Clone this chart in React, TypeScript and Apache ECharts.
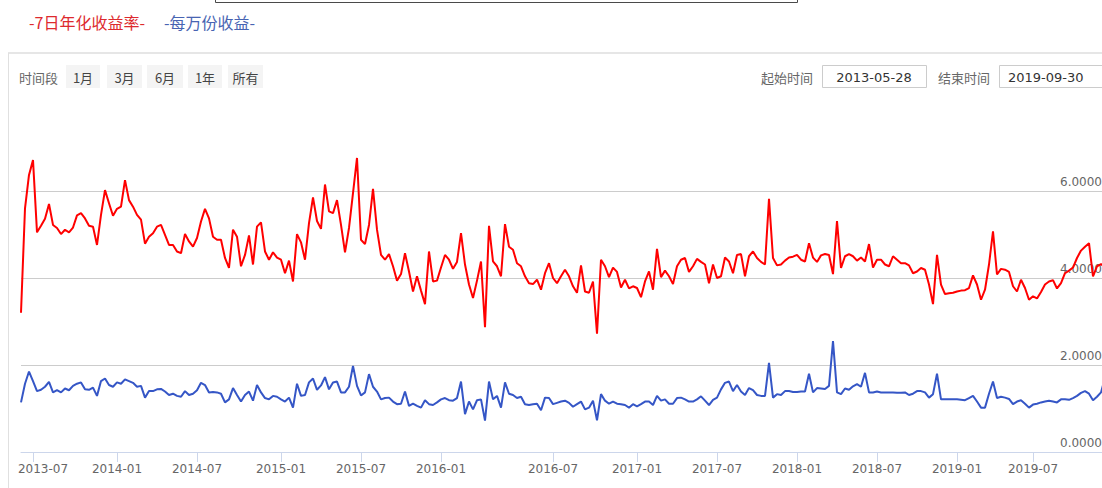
import React, { useEffect, useRef } from "react";
import * as echarts from "echarts";

const SERIES_NAMES = ["7日年化收益率", "每万份收益"];

const YIELD_7D = [
  3.2, 5.6, 6.37, 6.71, 5.05, 5.2, 5.36, 5.7, 5.22, 5.15,
  5.01, 5.11, 5.05, 5.16, 5.44, 5.49, 5.37, 5.2, 5.18, 4.76,
  5.45, 6.02, 5.72, 5.43, 5.59, 5.64, 6.25, 5.79, 5.64, 5.45,
  5.34, 4.79, 4.95, 5.03, 5.18, 5.22, 4.99, 4.76, 4.76, 4.61,
  4.57, 5.01, 4.84, 4.72, 4.92, 5.3, 5.59, 5.37, 4.95, 4.88,
  4.88, 4.46, 4.23, 5.11, 4.95, 4.27, 4.53, 4.98, 4.31, 5.18,
  5.28, 4.61, 4.42, 4.59, 4.47, 4.42, 4.11, 4.4, 3.92, 5.01,
  4.82, 4.42, 5.26, 5.85, 5.31, 5.13, 6.15, 5.53, 5.49, 5.79,
  5.22, 4.59, 5.15, 5.95, 6.76, 4.88, 4.78, 5.22, 6.05, 5.11,
  4.53, 4.42, 4.55, 4.27, 3.94, 4.09, 4.57, 4.15, 3.69, 4.04,
  3.71, 3.4, 4.61, 3.92, 3.94, 4.24, 4.53, 4.42, 4.21, 4.37,
  5.03, 4.31, 3.85, 3.54, 3.94, 4.38, 2.87, 5.2, 4.38, 4.27,
  4.04, 5.24, 4.72, 4.65, 4.34, 4.27, 4.04, 3.88, 3.86, 3.96,
  3.73, 4.11, 4.34, 4.0, 3.88, 4.04, 4.19, 4.04, 3.81, 3.66,
  4.29, 3.69, 3.66, 3.92, 2.72, 4.42, 4.27, 4.02, 4.24, 4.14,
  3.78, 3.96, 3.76, 3.81, 3.77, 3.56, 3.92, 4.15, 3.73, 4.67,
  4.02, 4.17, 4.04, 3.86, 4.27, 4.42, 4.46, 4.14, 4.27, 4.44,
  4.37, 4.31, 3.88, 4.31, 4.0, 4.04, 4.47, 4.38, 4.11, 4.53,
  4.55, 4.04, 4.5, 4.61, 4.46, 4.37, 4.31, 5.82, 4.46, 4.29,
  4.31, 4.4, 4.47, 4.49, 4.53, 4.42, 4.38, 4.8, 4.47, 4.37,
  4.52, 4.55, 4.53, 4.09, 5.31, 4.23, 4.5, 4.55, 4.5, 4.4,
  4.47, 4.38, 4.78, 4.24, 4.42, 4.42, 4.31, 4.27, 4.5, 4.42,
  4.34, 4.34, 4.29, 4.11, 4.15, 4.23, 4.19, 3.85, 3.4, 4.53,
  3.85, 3.63, 3.65, 3.66, 3.69, 3.71, 3.72, 3.77, 4.06, 3.85,
  3.5, 3.73, 4.31, 5.07, 4.08, 4.21, 4.19, 4.14, 3.81, 3.69,
  3.96, 3.77, 3.5, 3.58, 3.53, 3.68, 3.85, 3.92, 3.95, 3.76,
  3.88, 4.11, 4.17, 4.24, 4.46, 4.63, 4.72, 4.8, 4.04, 4.27,
  4.32, 4.24,
];

const PER_10K = [
  1.14, 1.57, 1.85, 1.63, 1.4, 1.43, 1.5, 1.61, 1.37, 1.42,
  1.37, 1.46, 1.42, 1.52, 1.57, 1.6, 1.44, 1.43, 1.48, 1.29,
  1.63, 1.69, 1.54, 1.5, 1.6, 1.57, 1.67, 1.63, 1.59, 1.5,
  1.52, 1.25, 1.4, 1.4, 1.44, 1.45, 1.39, 1.31, 1.34, 1.29,
  1.27, 1.4, 1.31, 1.34, 1.42, 1.59, 1.54, 1.37, 1.38, 1.37,
  1.34, 1.14, 1.21, 1.47, 1.31, 1.16, 1.31, 1.39, 1.18, 1.54,
  1.37, 1.24, 1.21, 1.29, 1.27, 1.21, 1.16, 1.25, 1.02, 1.57,
  1.29, 1.31, 1.6, 1.69, 1.43, 1.53, 1.72, 1.44, 1.6, 1.62,
  1.37, 1.37, 1.5, 1.98, 1.52, 1.3, 1.37, 1.79, 1.5, 1.39,
  1.21, 1.24, 1.25, 1.16, 1.1, 1.11, 1.39, 1.06, 1.11, 1.06,
  1.02, 1.19, 1.1, 1.08, 1.14, 1.21, 1.24, 1.19, 1.18, 1.24,
  1.62, 0.87, 1.16, 0.98, 1.19, 1.21, 0.72, 1.62, 1.21, 1.29,
  1.02, 1.6, 1.34, 1.31, 1.24, 1.27, 1.1, 1.08, 1.1, 1.11,
  0.96, 1.25, 1.24, 1.1, 1.13, 1.16, 1.18, 1.13, 1.04, 1.1,
  1.16, 0.98, 1.02, 1.18, 0.73, 1.33, 1.18, 1.11, 1.16, 1.11,
  1.1, 1.08, 1.02, 1.1, 1.05, 1.1, 1.16, 1.16, 1.08, 1.29,
  1.18, 1.21, 1.11, 1.11, 1.24, 1.25, 1.21, 1.16, 1.16, 1.21,
  1.28, 1.18, 1.08, 1.2, 1.25, 1.44, 1.59, 1.62, 1.4, 1.54,
  1.39, 1.31, 1.47, 1.42, 1.31, 1.29, 1.29, 2.05, 1.25, 1.33,
  1.31, 1.4, 1.4, 1.38, 1.38, 1.39, 1.39, 1.8, 1.37, 1.47,
  1.46, 1.45, 1.52, 2.55, 1.37, 1.33, 1.46, 1.43, 1.51, 1.56,
  1.5, 1.82, 1.37, 1.37, 1.39, 1.37, 1.37, 1.37, 1.37, 1.36,
  1.36, 1.37, 1.31, 1.34, 1.4, 1.4, 1.37, 1.25, 1.33, 1.8,
  1.21, 1.21, 1.21, 1.21, 1.21, 1.2, 1.19, 1.24, 1.29, 1.16,
  1.02, 1.02, 1.34, 1.62, 1.24, 1.27, 1.25, 1.22, 1.1, 1.16,
  1.19, 1.11, 1.02, 1.09, 1.11, 1.14, 1.16, 1.18, 1.16, 1.14,
  1.21, 1.21, 1.2, 1.24, 1.29, 1.36, 1.4, 1.34, 1.19, 1.27,
  1.37, 1.71,
];

const TICK_LABELS = [
  "2013-07", "2014-01", "2014-07", "2015-01", "2015-07", "2016-01", "2016-07",
  "2017-01", "2017-07", "2018-01", "2018-07", "2019-01", "2019-07",
];
const TICK_INDEX = [3, 24, 44, 65, 85, 105, 133, 154, 174, 194, 214, 234, 253];

const RANGE_BUTTONS = ["1月", "3月", "6月", "1年", "所有"];
const START_DATE = "2013-05-28";
const END_DATE = "2019-09-30";

const CJK = '"Noto Sans CJK SC", sans-serif';
const LATIN = '"DejaVu Sans", sans-serif';

function text(x: number, y: number, t: string, fill: string, size: number, family: string, align = "left") {
  return {
    type: "text",
    x,
    y,
    silent: true,
    z: 10,
    style: {
      text: t,
      fill,
      fontSize: size,
      fontFamily: family,
      align,
      verticalAlign: "middle",
      textAlign: align,
      textVerticalAlign: "middle",
    },
  };
}

export default function App() {
  const ref = useRef<HTMLDivElement>(null);

  useEffect(() => {
    if (!ref.current) return;
    const chart = echarts.init(ref.current, null, { renderer: "svg" });
    const categories = YIELD_7D.map((_, i) => String(i));
    const tickSet = new Set(TICK_INDEX);
    const showTick = (index: number) => tickSet.has(index);

    const btnX = [66, 107, 147, 188, 228];
    const btnW = [34, 35, 36, 34, 35];
    const graphics: any[] = [
      {
        type: "rect",
        silent: true,
        shape: { x: 215.5, y: -10, width: 582, height: 12.5 },
        style: { fill: "#fff", stroke: "#4a4a4a", lineWidth: 1 },
      },
      text(29, 22, "-" + SERIES_NAMES[0] + "-", "#dd2a2e", 16, CJK),
      text(164, 22, "-" + SERIES_NAMES[1] + "-", "#4864b2", 16, CJK),
      {
        type: "line",
        silent: true,
        shape: { x1: 8, y1: 53, x2: 1120, y2: 53 },
        style: { stroke: "#e6e6e6", lineWidth: 2 },
      },
      {
        type: "line",
        silent: true,
        shape: { x1: 8.5, y1: 53, x2: 8.5, y2: 500 },
        style: { stroke: "#e0e0e0", lineWidth: 1 },
      },
      text(19, 77, "时间段", "#666", 13, CJK),
      text(813, 77, "起始时间", "#666", 13, CJK, "right"),
      text(990, 77, "结束时间", "#666", 13, CJK, "right"),
      {
        type: "rect",
        silent: true,
        shape: { x: 822.5, y: 65.5, width: 104, height: 22 },
        style: { fill: "#fff", stroke: "#cccccc", lineWidth: 1 },
      },
      text(874, 77, START_DATE, "#333", 13, LATIN, "center"),
      {
        type: "rect",
        silent: true,
        shape: { x: 999.5, y: 65.5, width: 120, height: 22 },
        style: { fill: "#fff", stroke: "#cccccc", lineWidth: 1 },
      },
      text(1008, 77, END_DATE, "#333", 13, LATIN),
    ];
    RANGE_BUTTONS.forEach((b, i) => {
      graphics.push({
        type: "rect",
        silent: true,
        shape: { x: btnX[i], y: 65, width: btnW[i], height: 23 },
        style: { fill: "#f4f4f4" },
      });
      graphics.push(text(btnX[i] + btnW[i] / 2, 77, b, "#444", 13, CJK, "center"));
    });

    chart.setOption({
      animation: false,
      backgroundColor: "#ffffff",
      graphic: graphics,
      grid: {
        left: 21,
        right: 15,
        top: 104,
        bottom: 36,
        containLabel: false,
        outerBoundsMode: "none",
      },
      xAxis: {
        type: "category",
        data: categories,
        boundaryGap: false,
        axisLine: { show: true, lineStyle: { color: "#ccd6eb", width: 1 } },
        axisTick: {
          show: true,
          interval: showTick,
          length: 10,
          lineStyle: { color: "#ccd6eb" },
        },
        axisLabel: {
          interval: showTick,
          margin: 11,
          color: "#666",
          fontSize: 12,
          fontFamily: LATIN,
          formatter: (_v: string, index: number) => {
            const k = TICK_INDEX.indexOf(index);
            if (k < 0) return "";
            return k === 0 ? "{first|" + TICK_LABELS[k] + "}" : TICK_LABELS[k];
          },
          rich: {
            first: {
              padding: [0, 0, 0, 20],
              color: "#666",
              fontSize: 12,
              fontFamily: LATIN,
            },
          },
        },
        splitLine: { show: false },
      },
      yAxis: {
        type: "value",
        position: "right",
        min: 0,
        max: 8,
        interval: 2,
        axisLine: { show: false },
        axisTick: { show: false },
        axisLabel: {
          inside: true,
          margin: 3,
          color: "#666",
          fontSize: 12,
          fontFamily: LATIN,
          verticalAlign: "bottom",
          padding: [0, 0, 3, 0],
          showMaxLabel: false,
          formatter: (v: number) => (v >= 8 ? "" : v.toFixed(4)),
        },
        splitLine: {
          show: true,
          showMinLine: false,
          showMaxLine: false,
          lineStyle: {
            color: ["#cccccc", "#cccccc", "#cccccc", "#cccccc", "transparent"],
            width: 1,
          },
        },
      },
      series: [
        {
          name: SERIES_NAMES[0],
          type: "line",
          data: YIELD_7D,
          symbol: "none",
          lineStyle: { color: "#ff0000", width: 2 },
          itemStyle: { color: "#ff0000" },
          z: 3,
        },
        {
          name: SERIES_NAMES[1],
          type: "line",
          data: PER_10K,
          symbol: "none",
          lineStyle: { color: "#3556c6", width: 2 },
          itemStyle: { color: "#3556c6" },
          z: 3,
        },
      ],
    });
    return () => chart.dispose();
  }, []);

  return (
    <div
      style={{
        position: "fixed",
        left: 0,
        top: 0,
        width: "100vw",
        height: "100vh",
        overflow: "hidden",
        background: "#fff",
      }}
    >
      <div ref={ref} style={{ width: 1120, height: 488 }} />
    </div>
  );
}
